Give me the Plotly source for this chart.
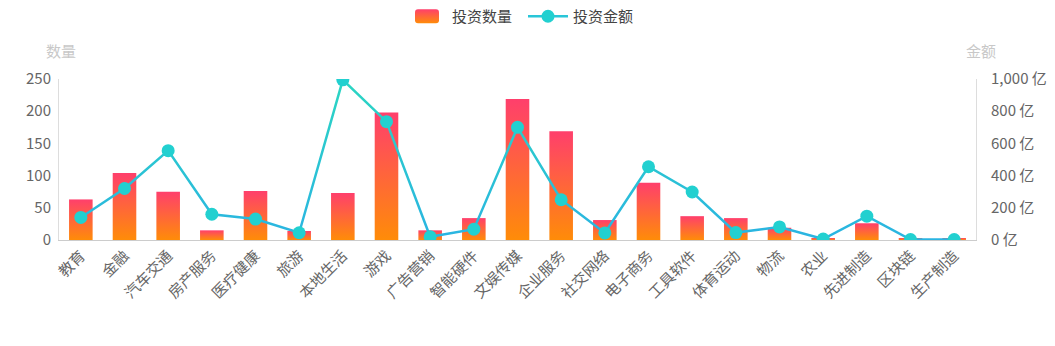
import plotly.graph_objects as go

categories = ["教育", "金融", "汽车交通", "房产服务", "医疗健康", "旅游", "本地生活", "游戏",
              "广告营销", "智能硬件", "文娱传媒", "企业服务", "社交网络", "电子商务", "工具软件",
              "体育运动", "物流", "农业", "先进制造", "区块链", "生产制造"]
counts = [63, 104, 75, 15, 76, 14, 73, 198, 15, 34, 219, 169, 31, 89, 37, 34, 19, 3, 26, 2, 2]
amounts = [140, 320, 555, 160, 130, 45, 995, 735, 20, 67, 700, 250, 44, 455, 298, 46, 81, 6, 148, 3, 3]
left_ticks = [0, 50, 100, 150, 200, 250]
right_ticks = [0, 200, 400, 600, 800, 1000]
right_labels = ["0 亿", "200 亿", "400 亿", "600 亿", "800 亿", "1,000 亿"]

FONT = "Noto Sans CJK SC, Noto Sans, sans-serif"

fig = go.Figure()
fig.add_trace(go.Bar(
    x=categories, y=counts, name="投资数量", width=0.54,
    marker=dict(color="#ff5a4a", line=dict(width=0)),
    yaxis="y",
))
fig.add_trace(go.Scatter(
    x=categories, y=amounts, name="投资金额", mode="lines+markers",
    line=dict(color="#29c6d8", width=2.5),
    marker=dict(color="#22d0d0", size=13),
    yaxis="y2",
))

L, R, T, B = 59, 79, 79, 106
W, H = 1055, 346
pw = W - L - R
ph = H - T - B

fig.update_layout(
    width=W, height=H,
    margin=dict(l=L, r=R, t=T, b=B),
    paper_bgcolor="white", plot_bgcolor="white",
    font=dict(family=FONT, size=15, color="#666"),
    showlegend=True,
    legend=dict(orientation="h", x=402 / W, xanchor="left", xref="container",
                y=1.0, yanchor="top", yref="container", font=dict(size=15, color="#444"),
                itemwidth=40, entrywidth=66, entrywidthmode="pixels", traceorder="normal"),
    xaxis=dict(type="category", range=[-0.5, len(categories) - 0.5], tickangle=-45,
               showline=True, linecolor="#ccc", linewidth=1, showgrid=False, ticks="",
               tickfont=dict(size=15, color="#666"), automargin=False),
    yaxis=dict(range=[0, 250], tickvals=left_ticks, showline=True, linecolor="#ddd",
               showgrid=False, zeroline=False, ticks="", ticklabelstandoff=4,
               tickfont=dict(size=15, color="#666"), automargin=False),
    yaxis2=dict(range=[0, 1000], tickvals=right_ticks, ticktext=right_labels,
                overlaying="y", side="right", showline=True, linecolor="#ddd",
                showgrid=False, zeroline=False, ticks="", ticklabelstandoff=11,
                tickfont=dict(size=15, color="#666"), automargin=False),
    annotations=[
        dict(text="数量", x=(61 - L) / pw, y=(H - B - 50) / ph, xref="paper", yref="paper",
             xanchor="center", yanchor="middle", showarrow=False,
             font=dict(size=15, color="#c8c8c8")),
        dict(text="金额", x=(981 - L) / pw, y=(H - B - 50) / ph, xref="paper", yref="paper",
             xanchor="center", yanchor="middle", showarrow=False,
             font=dict(size=15, color="#c8c8c8")),
    ],
)

js = r"""
var gd = document.getElementById('{plot_id}');
function applyGrad(){
  var svg = gd.querySelector('.main-svg');
  var ns = 'http://www.w3.org/2000/svg';
  var defs = svg.querySelector('defs');
  if (!defs) { defs = document.createElementNS(ns, 'defs'); svg.insertBefore(defs, svg.firstChild); }
  function mk(id, c1, c2){
    if (document.getElementById(id)) return;
    var g = document.createElementNS(ns, 'linearGradient');
    g.setAttribute('id', id); g.setAttribute('x1','0'); g.setAttribute('y1','0');
    g.setAttribute('x2','0'); g.setAttribute('y2','1');
    var s1 = document.createElementNS(ns,'stop'); s1.setAttribute('offset','0'); s1.setAttribute('stop-color', c1);
    var s2 = document.createElementNS(ns,'stop'); s2.setAttribute('offset','1'); s2.setAttribute('stop-color', c2);
    g.appendChild(s1); g.appendChild(s2); defs.appendChild(g);
  }
  mk('barGrad', '#ff3f6c', '#ff8c08');
  mk('lineGrad', '#2bd6c2', '#2ab4e2');
  gd.querySelectorAll('.barlayer .point path').forEach(function(p){ p.style.fill = 'url(#barGrad)'; });
  gd.querySelectorAll('.scatterlayer .js-line').forEach(function(p){ p.style.stroke = 'url(#lineGrad)'; });
  var items = gd.querySelectorAll('.legend .traces');
  if (items.length > 0) {
    var lp = items[0].querySelector('.legendpoints path');
    if (lp) {
      lp.setAttribute('d', 'M-9,-7H9A3,3 0 0 1 12,-4V4A3,3 0 0 1 9,7H-9A3,3 0 0 1 -12,4V-4A3,3 0 0 1 -9,-7Z');
      lp.style.fill = 'url(#barGrad)';
    }
  }
}
applyGrad();
"""

fig.write_html("out.html", post_script=js)
